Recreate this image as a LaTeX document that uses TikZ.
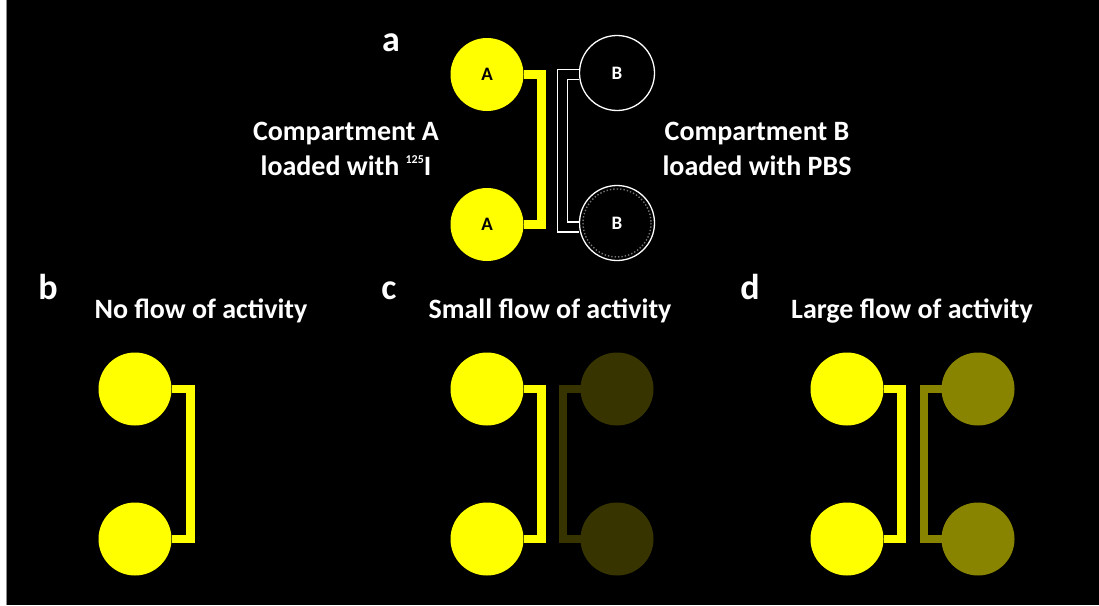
\documentclass[tikz,border=0pt]{standalone}
\usepackage{fontspec}
\setmainfont{Carlito}
\definecolor{yel}{RGB}{255,255,0}
\definecolor{dimyel}{RGB}{56,52,0}
\definecolor{olive}{RGB}{136,132,0}
\begin{document}
\begin{tikzpicture}[x=1pt,y=-1pt,
  well/.style={circle, minimum size=73pt, inner sep=0pt, outer sep=0pt, fill=#1,
    font=\fontsize{19}{19}\selectfont\bfseries},
  emptywell/.style={circle, minimum size=75pt, inner sep=0pt, draw=white, line width=1.3pt,
    text=white, font=\fontsize{19}{19}\selectfont\bfseries},
  channel/.style={draw=#1, line width=8.5pt, line join=miter},
  hollowchannel/.style={draw=white, line width=1.3pt, double=black, double distance=8.5pt, line join=miter},
  caption/.style={text=white, anchor=base, inner sep=0pt, font=\fontsize{28}{34}\selectfont\bfseries},
  panel/.style={text=white, anchor=base, inner sep=0pt, font=\fontsize{36}{40}\selectfont\bfseries}]
\useasboundingbox (0,0) rectangle (1099,605);
% page frame
\fill[white] (0,0) rectangle (1099,605);
\fill[black] (6,0) rectangle (1099,605);
\fill[black!45] (6,0) rectangle (7,605);

% ---- panel a ----
\node[panel] (la) at (391,51) {a};
\node[well=yel] (a1) at (487,74.5) {A};
\node[well=yel] (a2) at (487,224.5) {A};
\draw[channel=yel] (a1.east) -- ++(18,0) |- (a2.east);
\node[emptywell] (b1) at (617,73) {B};
\node[emptywell] (b2) at (617,223) {B};
\draw[black!55, dotted, line width=1.4pt] (b2.center) circle (34);
\draw[hollowchannel] ([yshift=-1.5pt]b1.west) -- ++(-16.5,0) |- ([yshift=-4pt]b2.west);
\node[caption] (ca1) at (346,140) {Compartment A};
\node[caption] (ca2) at (346,175) {loaded with \raisebox{12pt}{\fontsize{12}{12}\selectfont 125}I};
\node[caption] (cb1) at (757,140) {Compartment B};
\node[caption] (cb2) at (757,175) {loaded with PBS};

% ---- panel b ----
\node[panel] (lb) at (48,299) {b};
\node[caption] (tb) at (201,318) {No flow of activity};
\node[well=yel] (p1) at (135,389) {};
\node[well=yel] (p2) at (135,539) {};
\draw[channel=yel] (p1.east) -- ++(19,0) |- (p2.east);

% ---- panel c ----
\node[panel] (lc) at (389,299) {c};
\node[caption] (tc) at (550,318) {Small flow of activity};
\node[well=yel] (q1) at (487,389) {};
\node[well=yel] (q2) at (487,539) {};
\draw[channel=yel] (q1.east) -- ++(18,0) |- (q2.east);
\node[well=dimyel] (r1) at (617,389) {};
\node[well=dimyel] (r2) at (617,539) {};
\draw[channel=dimyel] (r1.west) -- ++(-17.5,0) |- (r2.west);

% ---- panel d ----
\node[panel] (ld) at (750,299) {d};
\node[caption] (td) at (912,318) {Large flow of activity};
\node[well=yel] (s1) at (847,389) {};
\node[well=yel] (s2) at (847,539) {};
\draw[channel=yel] (s1.east) -- ++(18,0) |- (s2.east);
\node[well=olive] (t1) at (978,389) {};
\node[well=olive] (t2) at (978,539) {};
\draw[channel=olive] (t1.west) -- ++(-17.5,0) |- (t2.west);
\end{tikzpicture}
\end{document}
